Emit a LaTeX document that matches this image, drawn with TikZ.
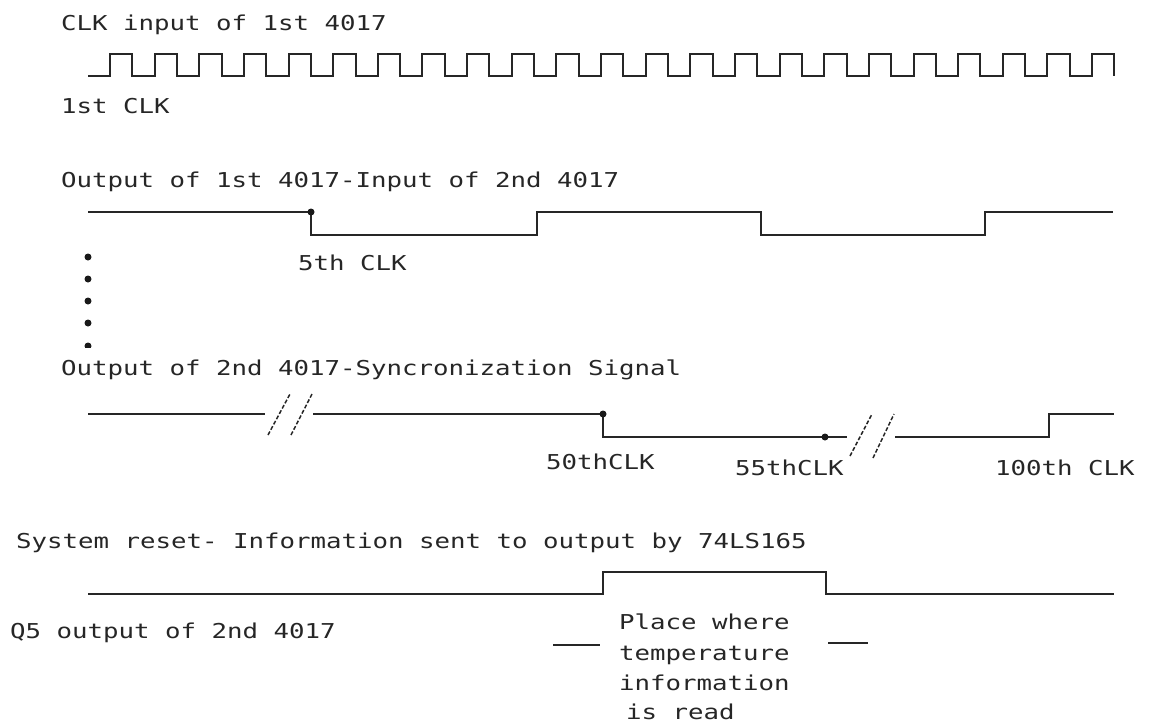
\documentclass[tikz,border=0pt]{standalone}
\usepackage{fontspec}
\newfontfamily\wf[FakeStretch=1.256]{DejaVu Sans Mono}
\tikzset{
  lbl/.style={anchor=base west, inner sep=0pt, font=\wf\fontsize{20.5}{24}\selectfont, text=black!85},
  wave/.style={line width=2pt, draw=black!85, line join=miter},
  brk/.style={line width=1.5pt, draw=black!85, dash pattern=on 4pt off 2pt},
  dotc/.style={fill=black!90}
}
\begin{document}
\begin{tikzpicture}[x=1pt,y=-1pt]
\useasboundingbox (0,0) rectangle (1149,724);

% labels
\node[lbl] (t1) at (61,30) {CLK input of 1st 4017};
\node[lbl] (t2) at (61,113) {1st CLK};
\node[lbl] (t3) at (61,187) {Output of 1st 4017-Input of 2nd 4017};
\node[lbl] (t4) at (298,270) {5th CLK};
\node[lbl] (t5) at (61,375) {Output of 2nd 4017-Syncronization Signal};
\node[lbl] (t6) at (546,469) {50thCLK};
\node[lbl] (t7) at (735,475) {55thCLK};
\node[lbl] (t8) at (995,475) {100th CLK};
\node[lbl] (t9) at (16,548) {System reset- Information sent to output by 74LS165};
\node[lbl] (t10) at (10,638) {Q5 output of 2nd 4017};
\node[lbl] (p1) at (619,629) {Place where};
\node[lbl] (p2) at (619,660) {temperature};
\node[lbl] (p3) at (619,690) {information};
\node[lbl] (p4) at (626,719) {is read};

% clock waveform
\draw[wave] (88,76) foreach \k in {0,...,22} {
  -- ({110+44.64*\k},76) -- ({110+44.64*\k},54)
  -- ({132.32+44.64*\k},54) -- ({132.32+44.64*\k},76) };

% output of 1st 4017
\draw[wave] (88,212) -- (311,212) -- (311,235) -- (537,235) -- (537,212)
  -- (761,212) -- (761,235) -- (985,235) -- (985,212) -- (1113,212);
\coordinate (d1) at (311,212);
\fill[dotc] (d1) circle (3.5);

% vertical dots
\foreach \yy in {257,279,301,323} { \fill[dotc] (88,\yy) circle (3.5); }
\begin{scope}
  \clip (80,338) rectangle (96,347);
  \fill[dotc] (88,346) circle (3.5);
\end{scope}

% output of 2nd 4017
\draw[wave] (88,414) -- (265,414);
\draw[wave] (313,414) -- (603,414) -- (603,437) -- (847,437);
\draw[wave] (895,437) -- (1049,437) -- (1049,414) -- (1114,414);
\draw[brk] (268,435) -- (290,394);
\draw[brk] (291,435) -- (312,394);
\draw[brk] (850,456) -- (872,414);
\draw[brk] (873,458) -- (894,414);
\coordinate (d2) at (603,414);
\coordinate (d3) at (825,437);
\fill[dotc] (d2) circle (3.5);
\fill[dotc] (d3) circle (3.5);

% Q5 output
\draw[wave] (88,594) -- (603,594) -- (603,572) -- (826,572) -- (826,594) -- (1114,594);
\draw[wave] (553,645) -- (600,645);
\draw[wave] (828,643) -- (868,643);
\end{tikzpicture}
\end{document}
